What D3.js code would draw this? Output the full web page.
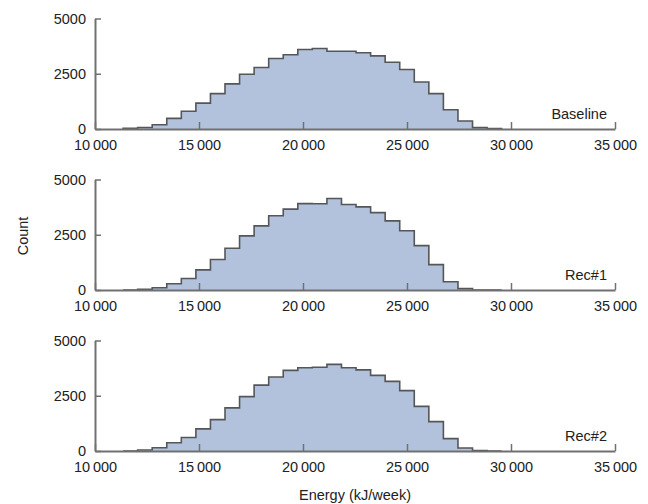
<!DOCTYPE html>
<html>
<head>
<meta charset="utf-8">
<script src="https://cdn.jsdelivr.net/npm/d3@7"></script>
<style>
  html, body { margin: 0; padding: 0; background: #fff; }
  svg { display: block; font-family: "Liberation Sans", Arial, Helvetica, sans-serif; }
</style>
</head>
<body>
<svg id="chart" width="648" height="504"></svg>
<script>
// ---- data ----
const panelNames = ["Baseline", "Rec#1", "Rec#2"];
const binStart = 11350;   // kJ/week, left edge of first bin
const binWidth = 700;     // kJ/week
const baselineCounts = [30, 70, 190, 480, 800, 1170, 1600, 2040, 2480, 2780, 3190, 3360, 3600, 3640, 3520, 3520, 3450, 3310, 3020, 2690, 2130, 1600, 870, 360, 60, 20];
const rec1Counts     = [0, 30, 100, 280, 520, 910, 1380, 1890, 2450, 2900, 3360, 3660, 3910, 3900, 4140, 3870, 3760, 3500, 3130, 2680, 2010, 1150, 370, 60, 0, 0];
const rec2Counts     = [0, 45, 150, 370, 610, 1000, 1420, 1950, 2460, 2980, 3350, 3650, 3770, 3790, 3920, 3770, 3670, 3420, 3150, 2730, 2020, 1330, 560, 135, 15, 0];
const xTicks = [10000, 15000, 20000, 25000, 30000, 35000];
const yTicks = [0, 2500, 5000];
const xDomain = [10000, 35000];
const yDomain = [0, 5000];
const xTitle = "Energy (kJ/week)";
const yTitle = "Count";

// ---- layout ----
const svg = d3.select("#chart");
const left = 95, right = 615;
const top0 = 18.5, panelH = 110.5, gap = 50.5;
const fs = 14.5;
const axisColor = "#707070";

const x = d3.scaleLinear().domain(xDomain).range([left, right]);
const series = [baselineCounts, rec1Counts, rec2Counts];
const xFmt = d => { const s = String(d); return s.length > 4 ? s.slice(0, s.length - 3) + "\u2009" + s.slice(-3) : s; };

series.forEach((counts, i) => {
  const pTop = top0 + i * (panelH + gap);
  const pBot = pTop + panelH;
  const y = d3.scaleLinear().domain(yDomain).range([pBot, pTop]);
  const g = svg.append("g");

  // step points
  const edges = counts.map((c, k) => binStart + k * binWidth);
  const pts = [[edges[0], 0]];
  counts.forEach((c, k) => pts.push([edges[k], c]));
  pts.push([binStart + counts.length * binWidth, counts[counts.length - 1]]);
  pts.push([binStart + counts.length * binWidth, 0]);

  const area = d3.area().curve(d3.curveStepAfter)
    .x(d => x(d[0])).y0(y(0)).y1(d => y(d[1]));
  const line = d3.line().curve(d3.curveStepAfter)
    .x(d => x(d[0])).y(d => y(d[1]));

  g.append("path").attr("d", area(pts)).attr("fill", "#b3c2dc").attr("stroke", "none");
  g.append("path").attr("d", line(pts)).attr("fill", "none")
    .attr("stroke", "#545658").attr("stroke-width", 1.6).attr("stroke-linejoin", "miter");

  // x axis
  const xa = g.append("g").attr("transform", `translate(0,${y(0)})`)
    .call(d3.axisBottom(x).tickValues(xTicks).tickFormat(xFmt).tickSizeInner(-7).tickSizeOuter(0).tickPadding(11));
  // y axis
  const ya = g.append("g").attr("transform", `translate(${left},0)`)
    .call(d3.axisLeft(y).tickValues(yTicks).tickFormat(d3.format("d")).tickSizeInner(-6).tickSizeOuter(0).tickPadding(9));

  [xa, ya].forEach(a => {
    a.select(".domain").attr("stroke", axisColor).attr("stroke-width", 2);
    a.selectAll(".tick line").attr("stroke", axisColor).attr("stroke-width", 1.5);
    a.selectAll(".tick text").attr("fill", "#222").style("font-size", fs + "px")
      .style("font-family", "'Liberation Sans', Arial, sans-serif");
  });

  // panel label
  g.append("text").attr("x", 607).attr("y", y(0) - 10)
    .attr("text-anchor", "end").attr("fill", "#222").style("font-size", fs + "px")
    .text(panelNames[i]);
});

// axis titles
svg.append("text").attr("x", (left + right) / 2).attr("y", 500)
  .attr("text-anchor", "middle").attr("fill", "#222").style("font-size", fs + "px")
  .text(xTitle);
svg.append("text").attr("transform", "translate(28,236) rotate(-90)")
  .attr("text-anchor", "middle").attr("fill", "#222").style("font-size", fs + "px")
  .text(yTitle);
</script>
</body>
</html>
